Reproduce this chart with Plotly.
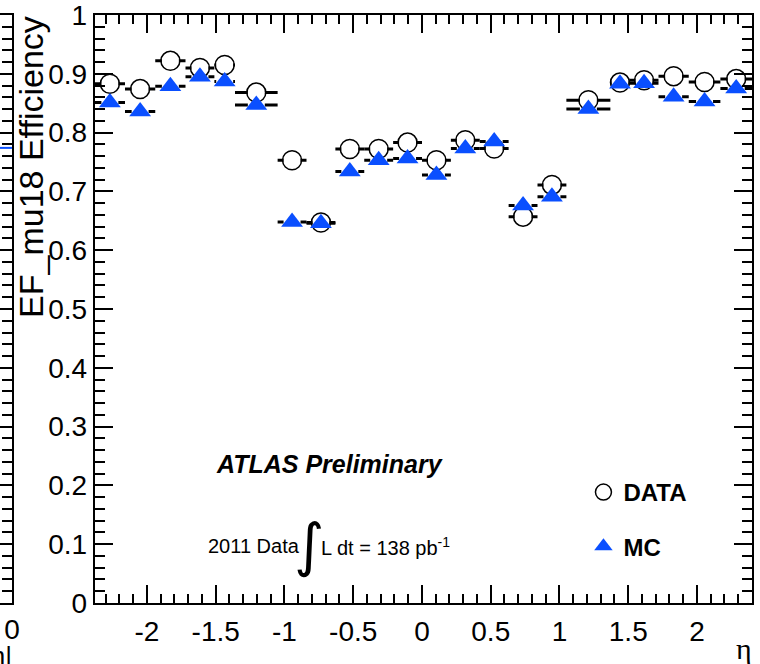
import plotly.graph_objects as go

# ---------------- data ----------------
eta_edges = [-2.38, -2.16, -1.94, -1.72, -1.51, -1.36, -1.05, -0.84, -0.63, -0.42, -0.21, 0.0,
             0.21, 0.42, 0.63, 0.84, 1.05, 1.37, 1.51, 1.72, 1.94, 2.17, 2.40]
eff_data = [0.883, 0.874, 0.922, 0.910, 0.915, 0.868, 0.753, 0.647, 0.772, 0.772, 0.783,
            0.753, 0.787, 0.773, 0.657, 0.711, 0.855, 0.885, 0.889, 0.896, 0.886, 0.891]
eff_mc = [0.851, 0.836, 0.879, 0.895, 0.887, 0.847, 0.648, 0.646, 0.734, 0.753, 0.756,
          0.728, 0.773, 0.785, 0.676, 0.691, 0.840, 0.883, 0.884, 0.861, 0.853, 0.875]
x_tick_vals = [-2, -1.5, -1, -0.5, 0, 0.5, 1, 1.5, 2]
x_tick_text = ["-2", "-1.5", "-1", "-0.5", "0", "0.5", "1", "1.5", "2"]
y_tick_vals = [0, 0.1, 0.2, 0.3, 0.4, 0.5, 0.6, 0.7, 0.8, 0.9, 1.0]
y_tick_text = ["0", "0.1", "0.2", "0.3", "0.4", "0.5", "0.6", "0.7", "0.8", "0.9", "1"]
left_panel_x = [-0.3, 0.0]
left_panel_y = [0.774, 0.774]

# ---------------- geometry ----------------
W, H = 760, 664
ML, MR, MT, MB = 0, 6, 15, 61
PW, PH = W - ML - MR, H - MT - MB
AX_L = 95          # pixel of main left axis
XR = [-2.38, 2.40]
BLUE = "#0a4fff"
SANS = "Liberation Sans Narrow, Arial Narrow, Liberation Sans, Arial, sans-serif"


def px(xp):
    return (xp - ML) / PW


def py(yp):
    return (H - MB - yp) / PH


centers = [(a + b) / 2 for a, b in zip(eta_edges[:-1], eta_edges[1:])]
eta_per_px = (XR[1] - XR[0]) / (W - MR - AX_L)
gap = 8.5 * eta_per_px


def split_bars(vals):
    xs, ys = [], []
    for lo, hi, c, v in zip(eta_edges[:-1], eta_edges[1:], centers, vals):
        xs += [lo, c - gap, None, c + gap, hi, None]
        ys += [v, v, None, v, v, None]
    return xs, ys


fig = go.Figure()

bx, by = split_bars(eff_mc)
fig.add_trace(go.Scatter(x=bx, y=by, mode="lines", line=dict(color="black", width=3),
                         showlegend=False, hoverinfo="skip"))
bx, by = split_bars(eff_data)
fig.add_trace(go.Scatter(x=bx, y=by, mode="lines", line=dict(color="black", width=3),
                         showlegend=False, hoverinfo="skip"))
fig.add_trace(go.Scatter(x=centers, y=eff_data, mode="markers", name="<b>DATA</b>",
                         legendgroup="d",
                         marker=dict(symbol="circle-open", size=19, color="black",
                                     line=dict(width=1.5, color="black"))))
fig.add_trace(go.Scatter(x=centers, y=eff_mc, mode="markers", name="<b>MC</b>",
                         legendgroup="m",
                         marker=dict(symbol="triangle-up", size=19, color=BLUE,
                                     line=dict(width=0))))

# left (cut-off) neighbour panel
fig.add_trace(go.Scatter(x=left_panel_x, y=left_panel_y, mode="lines", xaxis="x2", yaxis="y2",
                         line=dict(color=BLUE, width=2), showlegend=False, hoverinfo="skip"))

axis_common = dict(showline=True, linecolor="black", linewidth=2, mirror="ticks",
                   ticks="inside", tickcolor="black", tickwidth=1.5, ticklen=18,
                   showgrid=False, zeroline=False, ticklabeloverflow="allow",
                   tickfont=dict(family=SANS, size=28, color="black"))

fig.update_layout(
    width=W, height=H,
    margin=dict(l=ML, r=MR, t=MT, b=MB),
    paper_bgcolor="white", plot_bgcolor="white",
    xaxis=dict(domain=[px(AX_L), 1], range=XR, tickmode="array", tickvals=x_tick_vals,
               ticktext=x_tick_text, ticklabelstandoff=2,
               minor=dict(ticks="inside", tickmode="linear", tick0=0, dtick=0.1, ticklen=9,
                          tickwidth=1.5, tickcolor="black", showgrid=False),
               **axis_common),
    yaxis=dict(range=[0, 1], tickmode="array", tickvals=y_tick_vals, ticktext=y_tick_text,
               ticklabelstandoff=0,
               minor=dict(ticks="inside", tickmode="linear", tick0=0, dtick=0.02, ticklen=10,
                          tickwidth=1.5, tickcolor="black", showgrid=False),
               **axis_common),
    xaxis2=dict(domain=[0, px(12)], range=[-0.3, 0], anchor="y2", showline=True,
                linecolor="black", linewidth=2, mirror=True, ticks="", tickmode="array",
                tickvals=[0], ticktext=["0"], showgrid=False, zeroline=False,
                ticklabeloverflow="allow",
                tickfont=dict(family=SANS, size=28, color="black")),
    yaxis2=dict(range=[0, 1], anchor="x2", side="right", showline=True, linecolor="black",
                linewidth=2, ticks="inside", ticklen=18, tickwidth=1.5, tickcolor="black",
                dtick=0.1, showticklabels=False, showgrid=False, zeroline=False,
                minor=dict(ticks="inside", tickmode="linear", tick0=0, dtick=0.02,
                           ticklen=10, tickwidth=1.5, tickcolor="black", showgrid=False)),
    legend=dict(x=px(585), y=py(470), xanchor="left", yanchor="top",
                bgcolor="rgba(0,0,0,0)", borderwidth=0, tracegroupgap=20,
                font=dict(family=SANS, size=24, color="black"), traceorder="grouped",
                itemsizing="trace"),
    showlegend=True,
)

ann = []
ann.append(dict(text="EF_mu18 Efficiency", textangle=-90, x=px(31), y=py(14),
                xanchor="center", yanchor="top",
                font=dict(family="Liberation Sans, Arial, sans-serif", size=34, color="black")))
ann.append(dict(text="<b><i>ATLAS Preliminary</i></b>", x=px(215), y=py(464),
                xanchor="left", yanchor="middle",
                font=dict(family=SANS, size=25, color="black")))
ann.append(dict(text="2011 Data", x=px(207), y=py(546), xanchor="left", yanchor="middle",
                font=dict(family=SANS, size=20, color="black")))
ann.append(dict(text="\u222b", x=px(310), y=py(545), xanchor="center", yanchor="middle",
                font=dict(family="DejaVu Sans, sans-serif", size=58, color="black")))
ann.append(dict(text="L dt = 138 pb<sup>-1</sup>", x=px(320), y=py(546), xanchor="left",
                yanchor="middle", font=dict(family=SANS, size=20, color="black")))
ann.append(dict(text="\u03b7", x=px(746), y=py(648), xanchor="center", yanchor="middle",
                font=dict(family="Liberation Serif, DejaVu Serif, serif", size=30, color="black")))
ann.append(dict(text="|\u03b7|", x=px(14), y=py(656), xanchor="right", yanchor="middle",
                font=dict(family=SANS, size=26, color="black")))
for a in ann:
    a.update(xref="paper", yref="paper", showarrow=False)
fig.update_layout(annotations=ann)

fig.write_html("out.html")
